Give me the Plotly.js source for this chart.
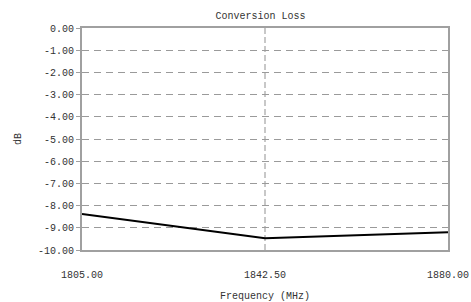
<!DOCTYPE html>
<html>
<head>
<meta charset="utf-8">
<script src="https://cdn.plot.ly/plotly-3.0.1.min.js"></script>
<style>html,body{margin:0;padding:0;background:#fff;}#chart{width:471px;height:302px;}</style>
</head>
<body>
<div id="chart"></div>
<script>
const frequencies = [1805, 1842.5, 1880];
const conversionLoss = [-8.38, -9.47, -9.2];
const xTickVals = [1805, 1842.5, 1880];
const xTickText = ["1805.00", "1842.50", "1880.00"];
const yTickVals = [0, -1, -2, -3, -4, -5, -6, -7, -8, -9, -10];
const yTickText = ["0.00", "-1.00", "-2.00", "-3.00", "-4.00", "-5.00", "-6.00", "-7.00", "-8.00", "-9.00", "-10.00"];

const font = {family: "Liberation Mono, DejaVu Sans Mono, monospace", size: 10, color: "#333"};

Plotly.newPlot("chart", [{
  x: frequencies, y: conversionLoss, type: "scatter", mode: "lines",
  line: {color: "#000", width: 2}, hoverinfo: "skip"
}], {
  width: 471, height: 302,
  margin: {l: 82, r: 23, t: 28, b: 52},
  paper_bgcolor: "#fff", plot_bgcolor: "#fff",
  font: font,
  showlegend: false,
  title: {text: "Conversion Loss", font: font, x: 0.553, xanchor: "center", y: 0.95, yanchor: "middle"},
  xaxis: {
    range: [1805, 1880], tickvals: xTickVals, ticktext: xTickText,
    showgrid: true, gridcolor: "#c8c8c8", griddash: "6px,3px", gridwidth: 2,
    showline: true, linecolor: "#a0a0a0", linewidth: 2, mirror: true,
    ticks: "", ticklabelstandoff: 14, zeroline: false,
    title: {text: "Frequency (MHz)", font: font, standoff: 14}
  },
  yaxis: {
    range: [-10, 0], tickvals: yTickVals, ticktext: yTickText,
    showgrid: true, gridcolor: "#9a9a9a", griddash: "7px,5px", gridwidth: 1,
    showline: true, linecolor: "#a0a0a0", linewidth: 2, mirror: true,
    ticks: "outside", ticklen: 4, tickcolor: "#a0a0a0", tickwidth: 1,
    zeroline: false,
    title: {text: "dB", font: font, standoff: 14}
  }
}, {staticPlot: true});
</script>
</body>
</html>
